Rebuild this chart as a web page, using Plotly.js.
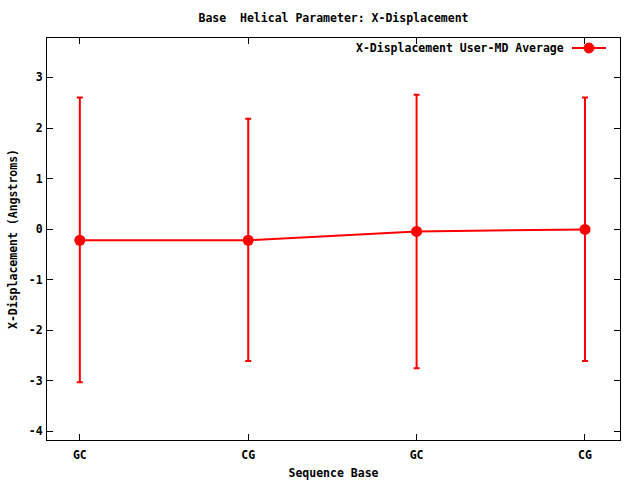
<!DOCTYPE html>
<html>
<head>
<meta charset="utf-8">
<script src="https://cdn.plot.ly/plotly-3.0.1.min.js"></script>
<style>html,body{margin:0;padding:0;background:#fff;}#chart{width:640px;height:480px;}</style>
</head>
<body>
<div id="chart"></div>
<script>
const categories = ['GC', 'CG', 'GC', 'CG'];
const positions = [0, 1, 2, 3];
const means = [-0.22, -0.22, -0.045, -0.006];
const upper = [2.605, 2.185, 2.66, 2.605];
const lower = [-3.03, -2.61, -2.75, -2.61];
const yTicks = [-4, -3, -2, -1, 0, 1, 2, 3];
const yTickText = ['-4', '-3', '-2', '-1', '0', '1', '2', '3'];
const seriesName = 'X-Displacement User-MD Average';

const plus = upper.map((u, i) => u - means[i]);
const minus = lower.map((l, i) => means[i] - l);

const font = {family: 'DejaVu Sans Mono, monospace', size: 11.5, color: '#000', weight: 'bold'};

const trace = {
  x: positions,
  y: means,
  type: 'scatter',
  mode: 'lines+markers',
  name: seriesName,
  line: {color: '#ff0000', width: 2},
  marker: {color: '#ff0000', size: 11, symbol: 'circle'},
  error_y: {type: 'data', symmetric: false, array: plus, arrayminus: minus, color: '#ff0000', thickness: 2, width: 3},
  showlegend: false
};

const L = 47, R = 20, T = 38, B = 40;
const pw = 640 - L - R, ph = 480 - T - B;
const px = v => (v - L) / pw;
const py = v => (480 - B - v) / ph;

const layout = {
  width: 640, height: 480,
  margin: {l: L, r: R, t: T, b: B, pad: 0},
  paper_bgcolor: '#fff', plot_bgcolor: '#fff',
  font: font,
  title: {text: 'Base  Helical Parameter: X-Displacement', font: font, x: 0.5, xref: 'paper', y: 1 - 18 / 480, yanchor: 'middle'},
  xaxis: {
    range: [-0.195, 3.208], tickvals: positions, ticktext: categories,
    showgrid: false, zeroline: false, showline: true, mirror: 'ticks', linecolor: '#000', linewidth: 1,
    ticks: 'inside', ticklen: 6, tickcolor: '#000', tickfont: font, ticklabelstandoff: 4,
    title: {text: 'Sequence Base', font: font, standoff: 8}
  },
  yaxis: {
    range: [-4.17, 3.78], tickvals: yTicks, ticktext: yTickText,
    showgrid: false, zeroline: false, showline: true, mirror: 'ticks', linecolor: '#000', linewidth: 1,
    ticks: 'inside', ticklen: 6, tickcolor: '#000', tickfont: font, ticklabelstandoff: 1,
    title: {text: 'X-Displacement (Angstroms)', font: font, standoff: 8}
  },
  annotations: [{
    text: seriesName, xref: 'paper', yref: 'paper', x: px(566), y: py(48),
    xanchor: 'right', yanchor: 'middle', showarrow: false, font: font
  }],
  shapes: [
    {type: 'line', xref: 'paper', yref: 'paper', x0: px(572), x1: px(606), y0: py(48), y1: py(48), line: {color: '#ff0000', width: 2}},
    {type: 'circle', xref: 'paper', yref: 'paper', xsizemode: 'pixel', ysizemode: 'pixel', xanchor: px(589), yanchor: py(48),
     x0: -5, x1: 5, y0: -5, y1: 5, fillcolor: '#ff0000', line: {color: '#ff0000', width: 1}}
  ]
};

Plotly.newPlot('chart', [trace], layout, {displayModeBar: false, staticPlot: true});
</script>
</body>
</html>
